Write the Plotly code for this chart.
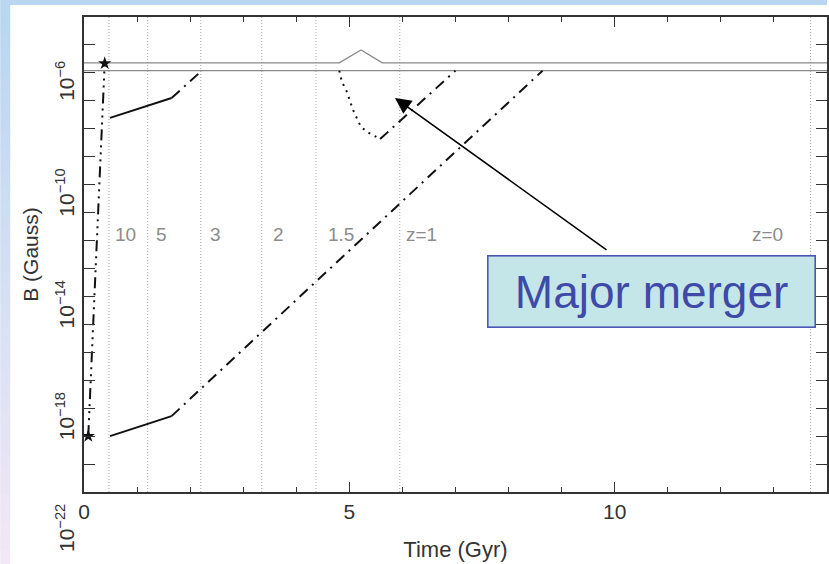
import plotly.graph_objects as go
import numpy as np

# ---------------- data ----------------
# primordial seed (dash-dot-dot-dot) between stars
t_seed = [0.08, 0.39]
B_seed = [1.0e-20, 2.2e-7]

# upper track (solid then dash-dot)
t_up_solid = [0.49, 1.65]
B_up_solid = [2.45e-9, 1.26e-8]
t_up_dd = [1.65, 2.22]
B_up_dd = [1.26e-8, 1.2e-7]

# lower track (solid then dash-dot)
t_lo_solid = [0.49, 1.65]
B_lo_solid = [1.0e-20, 5.2e-20]
t_lo_dd = [1.65, 8.64]
B_lo_dd = [5.2e-20, 1.2e-7]

# major merger (dotted decay then dash-dot regrowth)
t_mm_dot = [4.81, 4.86, 4.94, 5.01, 5.07, 5.15, 5.22, 5.37, 5.56, 5.58]
B_mm_dot = [1.2e-7, 4.7e-8, 2.45e-8, 1.07e-8, 4.7e-9, 2.2e-9, 1.15e-9, 7.1e-10, 4.7e-10, 4.3e-10]
t_mm_dd = [5.58, 7.00]
B_mm_dd = [4.3e-10, 1.2e-7]

# saturation levels (grey)
t_sat_lo = [0, 14]
B_sat_lo = [1.2e-7, 1.2e-7]
t_sat_hi = [0, 4.81, 5.22, 5.62, 14]
B_sat_hi = [2.3e-7, 2.3e-7, 6.6e-7, 2.3e-7, 2.3e-7]

# redshift markers
z_times = [0.47, 1.20, 2.20, 3.35, 4.37, 5.95, 13.69]
z_labels = ["10", "5", "3", "2", "1.5", "z=1", "z=0"]
z_label_t = [0.545, 1.31, 2.33, 3.53, 4.56, 6.03, 12.54]
z_label_logB = -12.8

# axes
x_major = [0, 5, 10]
y_decades = list(range(-22, -4))
y_label_decades = [-22, -18, -14, -10, -6]

FONT = "Liberation Sans"
W, H = 829, 564
ML, MR, MT, MB = 84, 0, 17, 72
PW, PH = W - ML - MR, H - MT - MB

fig = go.Figure()

blk = "#111111"
dd = "11px,6px,2px,6px"
dddd = "11px,5px,2px,5px,2px,5px,2px,5px"

def line(x, y, dash="solid", color=blk, width=2):
    fig.add_trace(go.Scatter(x=x, y=y, mode="lines",
                             line=dict(color=color, width=width, dash=dash),
                             hoverinfo="skip", showlegend=False))

for t in z_times:
    fig.add_vline(x=t, line=dict(color="#a8a8a8", width=1, dash="1px,2px"), layer="below")

line(t_sat_lo, B_sat_lo, color="#8a8a8a", width=1.3)
line(t_sat_hi, B_sat_hi, color="#8a8a8a", width=1.3)
line(t_seed, B_seed, dash=dddd)
line(t_up_solid, B_up_solid)
line(t_up_dd, B_up_dd, dash=dd)
line(t_lo_solid, B_lo_solid)
line(t_lo_dd, B_lo_dd, dash=dd)
line(t_mm_dot, B_mm_dot, dash="2px,5px")
line(t_mm_dd, B_mm_dd, dash=dd)

fig.add_trace(go.Scatter(x=t_seed, y=B_seed, mode="markers",
                         marker=dict(symbol="star", size=10, color=blk),
                         hoverinfo="skip", showlegend=False))

annotations = []
for lab, t in zip(z_labels, z_label_t):
    annotations.append(dict(x=t, y=z_label_logB, xref="x", yref="y", text=lab,
                            showarrow=False, xanchor="left", yanchor="middle",
                            font=dict(family=FONT, size=19, color="#8c8c8c")))

# arrow
annotations.append(dict(x=5.86, y=-7.90, xref="x", yref="y", text=" ",
                        showarrow=True, ax=216, ay=155, axref="pixel", ayref="pixel",
                        arrowhead=2, arrowsize=2.0, arrowwidth=1.6, arrowcolor="#000000",
                        standoff=0))
# box
annotations.append(dict(x=10.69, y=-14.81, xref="x", yref="y", text="Major merger",
                        showarrow=False, xanchor="center", yanchor="middle",
                        width=322, height=66, borderpad=2, borderwidth=1.6,
                        bordercolor="#4c57b5", bgcolor="#c4e6e9",
                        font=dict(family=FONT, size=46, color="#3f4aa8")))

# background slide decoration (gradient strips)
shapes = []
def px2x(px):
    return (px - ML) / PW
def py2y(py):
    return (H - MB - py) / PH

shapes.append(dict(type="rect", xref="paper", yref="paper", x0=px2x(0), x1=px2x(W),
                   y0=py2y(5), y1=py2y(0), fillcolor="#b9d7f1", line=dict(width=0), layer="below"))
n = 40
c0 = np.array([185, 215, 241])
c1 = np.array([242, 232, 246])
for i in range(n):
    f = i / (n - 1)
    c = (c0 * (1 - f) + c1 * f).astype(int)
    y_top = 5 + (H - 5) * i / n
    y_bot = 5 + (H - 5) * (i + 1) / n + 1
    shapes.append(dict(type="rect", xref="paper", yref="paper", x0=px2x(0), x1=px2x(10),
                       y0=py2y(y_bot), y1=py2y(y_top),
                       fillcolor="rgb(%d,%d,%d)" % tuple(c), line=dict(width=0), layer="below"))

fig.update_layout(
    width=W, height=H,
    margin=dict(l=ML, r=MR, t=MT, b=MB, pad=0),
    paper_bgcolor="white", plot_bgcolor="white",
    annotations=annotations, shapes=list(fig.layout.shapes) + shapes,
    font=dict(family=FONT, size=21, color="#333333"),
)

fig.update_xaxes(range=[0, 14], tickvals=x_major, ticktext=[str(v) for v in x_major],
                 ticks="inside", ticklen=10, tickwidth=1.3, tickcolor="#333",
                 minor=dict(dtick=1, ticks="inside", ticklen=5, tickwidth=1.2, tickcolor="#333", showgrid=False),
                 showline=True, linecolor="#333", linewidth=1.5, mirror="ticks",
                 showgrid=False, zeroline=False,
                 tickfont=dict(family=FONT, size=21, color="#333"),
                 title=dict(text="Time (Gyr)", font=dict(family=FONT, size=22, color="#333"), standoff=20))

fig.update_yaxes(type="log", range=[-22, -5],
                 tickvals=[10.0 ** d for d in y_label_decades],
                 ticktext=["10<sup>−%d</sup>" % (-d) for d in y_label_decades],
                 minor=dict(tickvals=[10.0 ** d for d in y_decades], ticks="inside", ticklen=11,
                            tickwidth=1.3, tickcolor="#333", showgrid=False),
                 ticks="inside", ticklen=11, tickwidth=1.3, tickcolor="#333",
                 tickangle=-90, ticklabelshift=39, ticklabelstandoff=0,
                 showline=True, linecolor="#333", linewidth=1.5, mirror="ticks",
                 showgrid=False, zeroline=False,
                 tickfont=dict(family=FONT, size=21, color="#333"),
                 title=dict(text="B (Gauss)", font=dict(family=FONT, size=21, color="#333"), standoff=8))

fig.write_html("out.html")
